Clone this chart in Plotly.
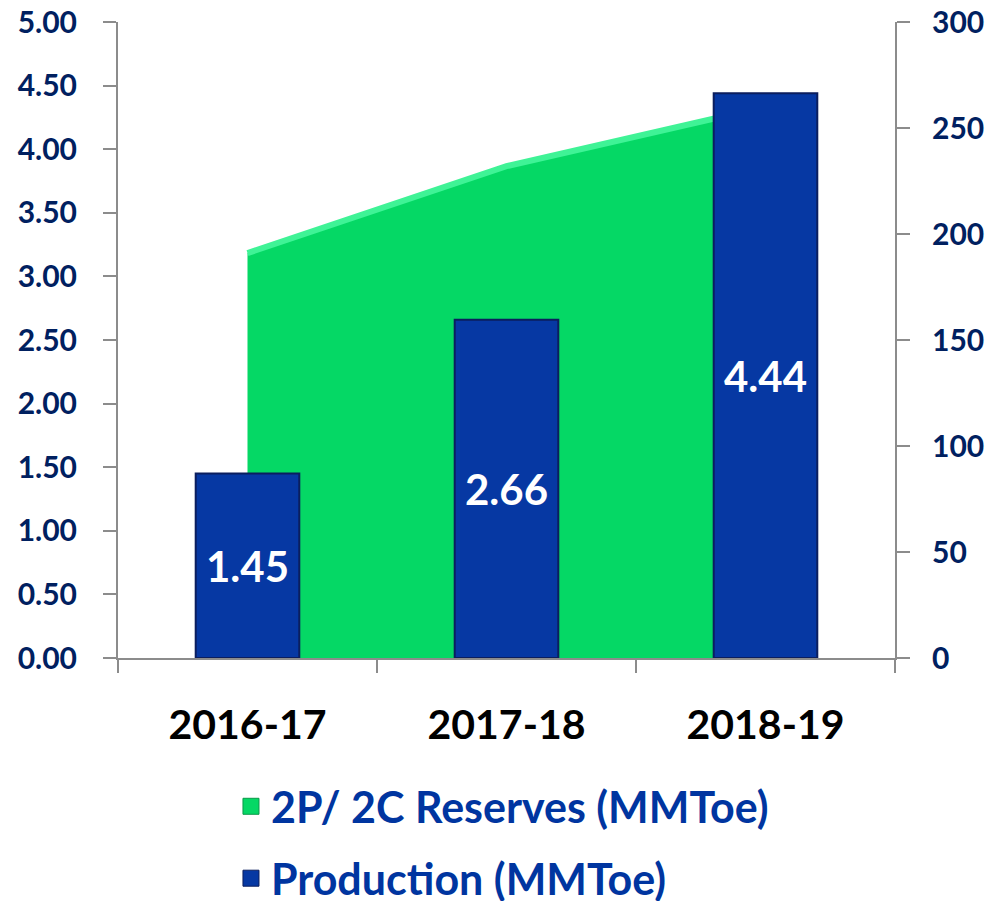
import plotly.graph_objects as go

categories = ["2016-17", "2017-18", "2018-19"]
reserves = [191, 232, 260]          # 2P/2C Reserves (MMToe), right axis
production = [1.45, 2.66, 4.44]     # Production (MMToe), left axis
left_ticks = [0, 0.5, 1, 1.5, 2, 2.5, 3, 3.5, 4, 4.5, 5]
right_ticks = [0, 50, 100, 150, 200, 250, 300]

GREEN = "#05D865"
BLUE = "#0638A3"
NAVY = "#002060"
LEG = "#0035A0"
GRAY = "#8C8C8C"
FONT = "Lato"

fig = go.Figure()

fig.add_trace(go.Scatter(
    x=categories, y=reserves, yaxis="y", mode="lines",
    fill="tozeroy", fillcolor=GREEN,
    line=dict(color="#3FF396", width=6),
    showlegend=False, hoverinfo="skip",
))

fig.add_trace(go.Bar(
    x=categories, y=production, yaxis="y2", width=0.4,
    marker=dict(color=BLUE, line=dict(color="#0B1E5E", width=2)),
    text=[f"{v:.2f}" for v in production],
    textposition="inside", insidetextanchor="middle",
    textfont=dict(family=FONT, size=42, color="white", weight="bold"),
    showlegend=False,
))

# legend entries
fig.add_trace(go.Scatter(
    x=[None], y=[None], mode="markers", name="2P/ 2C Reserves (MMToe)",
    marker=dict(symbol="square", size=22, color=GREEN, line=dict(color="#0A9A48", width=1)),
    legendgroup="a",
))
fig.add_trace(go.Scatter(
    x=[None], y=[None], mode="markers", name="Production (MMToe)",
    marker=dict(symbol="square", size=22, color=BLUE, line=dict(color="#0B1E5E", width=1)),
    legendgroup="b",
))

fig.update_layout(
    width=1001, height=901,
    margin=dict(l=118, r=106, t=22, b=243, autoexpand=False),
    paper_bgcolor="white", plot_bgcolor="white",
    barmode="overlay",
    xaxis=dict(
        type="category", categoryorder="array", categoryarray=categories,
        range=[-0.5, 2.5], tickson="boundaries", ticks="outside", ticklen=13,
        tickcolor=GRAY, tickwidth=2, showline=True, linecolor=GRAY, linewidth=2,
        showgrid=False, zeroline=False, automargin=False,
        tickfont=dict(family=FONT, size=41, color="black", weight="bold"),
        ticklabelstandoff=30,
    ),
    yaxis=dict(
        side="right", range=[0, 300], tickvals=right_ticks,
        ticks="outside", ticklen=13, tickcolor=GRAY, tickwidth=2,
        showline=True, linecolor=GRAY, linewidth=2, showgrid=False, zeroline=False,
        automargin=False,
        tickfont=dict(family=FONT, size=30, color=NAVY, weight="bold"),
        ticklabelstandoff=16,
    ),
    yaxis2=dict(
        side="left", overlaying="y", range=[0, 5], tickvals=left_ticks,
        tickformat=".2f",
        ticks="outside", ticklen=13, tickcolor=GRAY, tickwidth=2,
        showline=True, linecolor=GRAY, linewidth=2, showgrid=False, zeroline=False,
        automargin=False,
        tickfont=dict(family=FONT, size=30, color=NAVY, weight="bold"),
        ticklabelstandoff=20,
    ),
    legend=dict(
        orientation="v", x=0.1454, xanchor="left", y=-0.179, yanchor="top",
        font=dict(family=FONT, size=43, color=LEG, weight="bold"),
        traceorder="grouped", tracegroupgap=13, itemwidth=30,
        bgcolor="rgba(0,0,0,0)",
    ),
)

fig.write_html(
    "out.html",
    config={"displayModeBar": False},
    post_script="document.body.style.margin='0';document.body.style.overflow='hidden';",
)
